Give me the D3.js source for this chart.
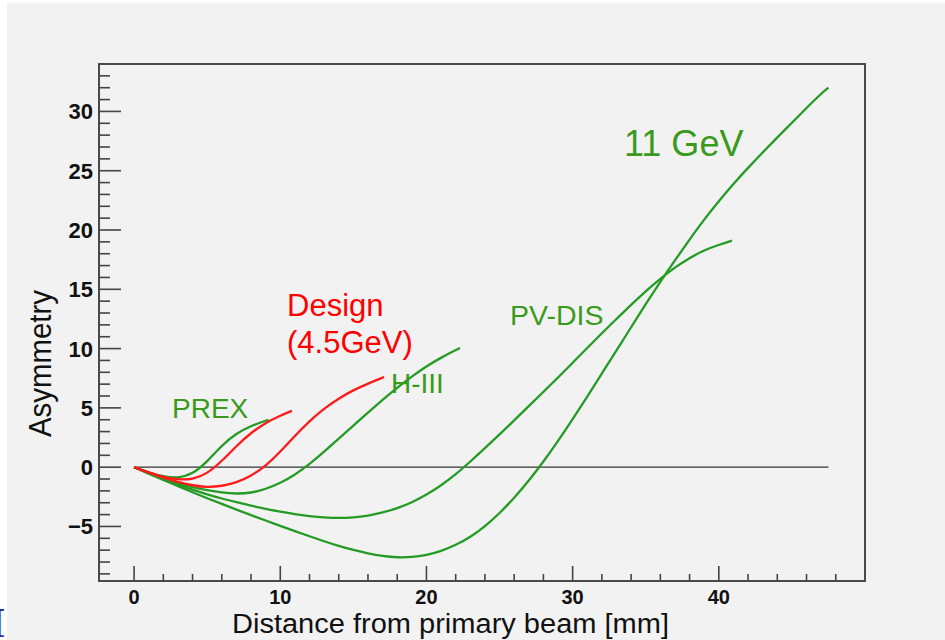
<!DOCTYPE html>
<html>
<head>
<meta charset="utf-8">
<script src="https://cdn.jsdelivr.net/npm/d3@7"></script>
<style>
  html, body { margin: 0; padding: 0; background: #ffffff; }
  svg { display: block; }
</style>
</head>
<body>
<svg id="chart" width="945" height="640"></svg>
<script>
// Asymmetry curves versus distance from the primary beam
const prexX = [0, 1, 2, 3, 4, 5, 6, 7, 8, 9.2];
const prexY = [0, -0.45, -0.8, -0.93, -0.6, 0.45, 1.85, 2.85, 3.5, 4.0];

const designAX = [0, 1, 2, 3, 4, 5, 6, 7, 8, 9, 10, 10.8];
const designAY = [0, -0.45, -0.85, -1.05, -1.05, -0.55, 0.5, 1.8, 2.9, 3.75, 4.35, 4.75];

const designBX = [0, 1, 2, 3, 4, 5, 6, 7, 8, 9, 10, 11, 12, 13, 14, 15, 16, 17.1];
const designBY = [0, -0.45, -0.9, -1.25, -1.55, -1.7, -1.6, -1.3, -0.75, 0.1, 1.3, 2.65, 3.9, 4.95, 5.8, 6.5, 7.05, 7.6];

const h3X = [0, 1, 2, 3, 4, 5, 6, 7, 8, 9, 10, 11, 12, 13, 14, 15, 16, 17, 18, 19, 20, 21, 22.3];
const h3Y = [0, -0.5, -0.95, -1.35, -1.7, -1.95, -2.15, -2.25, -2.18, -1.85, -1.35, -0.65, 0.25, 1.3, 2.4, 3.5, 4.6, 5.7, 6.7, 7.65, 8.5, 9.25, 10.05];

const pvdisX = [0, 1, 2, 3, 4, 5, 6, 7, 8, 9, 10, 11, 12, 13, 14, 15, 16, 17, 18, 19, 20, 21, 22, 23, 24, 25, 26, 27, 28, 29, 30, 31, 32, 33, 34, 35, 36, 37, 38, 39, 40, 40.9];
const pvdisY = [0, -0.52, -1.02, -1.48, -1.9, -2.3, -2.65, -2.95, -3.25, -3.52, -3.76, -3.97, -4.13, -4.25, -4.3, -4.25, -4.1, -3.83, -3.48, -2.98, -2.34, -1.55, -0.62, 0.47, 1.6, 2.75, 3.95, 5.15, 6.35, 7.55, 8.8, 10.05, 11.3, 12.5, 13.7, 14.85, 15.9, 16.85, 17.65, 18.3, 18.75, 19.1];

const gev11X = [0, 1, 2, 3, 4, 5, 6, 7, 8, 9, 10, 11, 12, 13, 14, 15, 16, 17, 18, 19, 20, 21, 22, 23, 24, 25, 26, 27, 28, 29, 30, 31, 32, 33, 34, 35, 36, 37, 38, 39, 40, 41, 42, 43, 44, 45, 46, 47, 47.5];
const gev11Y = [0, -0.55, -1.08, -1.6, -2.12, -2.62, -3.1, -3.58, -4.05, -4.5, -4.95, -5.4, -5.83, -6.25, -6.65, -6.98, -7.27, -7.5, -7.62, -7.6, -7.42, -7.08, -6.58, -5.9, -5.0, -3.9, -2.6, -1.15, 0.45, 2.2, 4.05, 5.95, 7.9, 9.85, 11.8, 13.75, 15.65, 17.45, 19.2, 20.9, 22.45, 23.9, 25.25, 26.55, 27.8, 29.05, 30.3, 31.5, 32.0];

const xTickValues = [0, 10, 20, 30, 40];
const xTickLabels = ["0", "10", "20", "30", "40"];
const yTickValues = [-5, 0, 5, 10, 15, 20, 25, 30];
const yTickLabels = ["\u22125", "0", "5", "10", "15", "20", "25", "30"];

const xTitle = "Distance from primary beam [mm]";
const yTitle = "Asymmetry";

const GREEN = "#249b24";
const GREEN_TEXT = "#3a9a1c";
const RED = "#ff1a1a";

const series = [
  { x: gev11X, y: gev11Y, color: GREEN },
  { x: pvdisX, y: pvdisY, color: GREEN },
  { x: h3X, y: h3Y, color: GREEN },
  { x: prexX, y: prexY, color: GREEN },
  { x: designBX, y: designBY, color: RED },
  { x: designAX, y: designAY, color: RED }
];

const svg = d3.select("#chart");
const FONT = "'Liberation Sans', Arial, Helvetica, sans-serif";

// page background
svg.append("rect").attr("x", 7).attr("y", 3).attr("width", 938).attr("height", 637).attr("fill", "#f2f2f2");

// frame geometry
const frameL = 99, frameR = 865, frameT = 64, frameB = 581;
const x = d3.scaleLinear().domain([-2.4, 50]).range([frameL, frameR]);
const y = d3.scaleLinear().domain([-9.6, 34]).range([frameB, frameT]);

// y axis: major and minor ticks drawn inward from the left edge
const yMinor = d3.range(-9, 34, 1).filter(v => v % 5 !== 0);
svg.append("g").selectAll("line").data(yMinor).join("line")
  .attr("x1", frameL).attr("x2", frameL + 11)
  .attr("y1", d => y(d)).attr("y2", d => y(d))
  .attr("stroke", "#444").attr("stroke-width", 1.6);
svg.append("g").selectAll("line").data(yTickValues).join("line")
  .attr("x1", frameL).attr("x2", frameL + 22)
  .attr("y1", d => y(d)).attr("y2", d => y(d))
  .attr("stroke", "#444").attr("stroke-width", 1.6);
svg.append("g").selectAll("text").data(yTickValues).join("text")
  .attr("x", 93).attr("y", d => y(d)).attr("dy", "0.36em")
  .attr("text-anchor", "end")
  .attr("font-family", FONT).attr("font-weight", "bold").attr("font-size", 22)
  .attr("fill", "#111")
  .text((d, i) => yTickLabels[i]);

// x axis ticks drawn upward from the bottom edge
const xMinor = d3.range(2, 50, 2).filter(v => v % 10 !== 0);
svg.append("g").selectAll("line").data(xMinor).join("line")
  .attr("x1", d => x(d)).attr("x2", d => x(d))
  .attr("y1", frameB).attr("y2", frameB - 7)
  .attr("stroke", "#444").attr("stroke-width", 1.6);
svg.append("g").selectAll("line").data(xTickValues).join("line")
  .attr("x1", d => x(d)).attr("x2", d => x(d))
  .attr("y1", frameB).attr("y2", frameB - 15)
  .attr("stroke", "#444").attr("stroke-width", 1.6);
svg.append("g").selectAll("text").data(xTickValues).join("text")
  .attr("x", d => x(d)).attr("y", 604)
  .attr("text-anchor", "middle")
  .attr("font-family", FONT).attr("font-weight", "bold").attr("font-size", 20)
  .attr("fill", "#111")
  .text((d, i) => xTickLabels[i]);

// frame
svg.append("rect")
  .attr("x", frameL).attr("y", frameT).attr("width", frameR - frameL).attr("height", frameB - frameT)
  .attr("fill", "none").attr("stroke", "#4a4a4a").attr("stroke-width", 2);

// zero reference line
svg.append("line")
  .attr("x1", x(0)).attr("x2", x(47.5))
  .attr("y1", y(0)).attr("y2", y(0))
  .attr("stroke", "#333").attr("stroke-width", 1.3);

// curves, smoothed through the sampled points
const line = d3.line()
  .x(d => x(d[0])).y(d => y(d[1]))
  .curve(d3.curveBasis);
svg.append("g").selectAll("path").data(series).join("path")
  .attr("d", s => line(s.x.map((v, i) => [v, s.y[i]])))
  .attr("fill", "none")
  .attr("stroke", s => s.color)
  .attr("stroke-width", 2.3)
  .attr("stroke-linejoin", "round");

// axis titles
svg.append("text")
  .attr("x", 232).attr("y", 633)
  .attr("font-family", FONT).attr("font-size", 27).attr("fill", "#111")
  .attr("textLength", 437).attr("lengthAdjust", "spacingAndGlyphs")
  .text(xTitle);
svg.append("text")
  .attr("transform", "translate(51,437) rotate(-90)")
  .attr("font-family", FONT).attr("font-size", 32).attr("fill", "#111")
  .attr("textLength", 147).attr("lengthAdjust", "spacingAndGlyphs")
  .text(yTitle);

// curve annotations
const notes = [
  { t: "11 GeV", px: 624, py: 156, size: 36, color: GREEN_TEXT },
  { t: "PV-DIS", px: 510, py: 325, size: 28.5, color: GREEN_TEXT },
  { t: "Design", px: 287, py: 316, size: 31, color: "#ff0000" },
  { t: "(4.5GeV)", px: 287, py: 353, size: 31, color: "#ff0000" },
  { t: "H-III", px: 391, py: 393, size: 28, color: GREEN_TEXT },
  { t: "PREX", px: 172, py: 418, size: 28, color: GREEN_TEXT }
];
svg.append("g").selectAll("text").data(notes).join("text")
  .attr("x", d => d.px).attr("y", d => d.py)
  .attr("font-family", FONT).attr("font-size", d => d.size)
  .attr("fill", d => d.color)
  .text(d => d.t);

// bracket at the lower-left page edge
svg.append("text")
  .attr("x", -4).attr("y", 631)
  .attr("font-family", FONT).attr("font-size", 29).attr("fill", "#2b2f95")
  .text("[");
</script>
</body>
</html>
